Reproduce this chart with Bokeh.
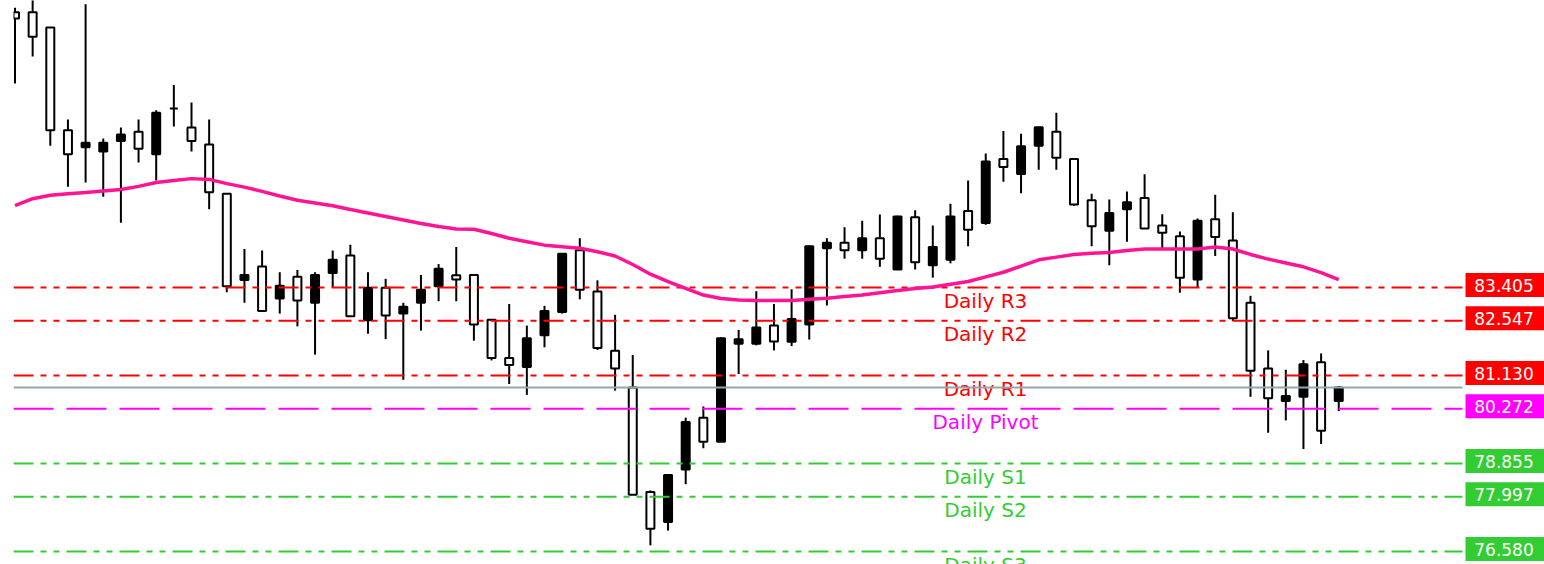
from bokeh.plotting import figure
from bokeh.models import Range1d, ColumnDataSource
from bokeh.embed import file_html
from bokeh.resources import INLINE
from bokeh.core.properties import value

# ---------------- data ----------------
opens = [90.52, 90.52, 90.13, 87.47, 87.03, 86.92, 87.19, 87.43, 86.85, 88.03,
         87.54, 87.10, 85.83, 83.60, 83.95, 83.12, 83.68, 83.01, 83.78, 84.23,
         82.56, 83.40, 82.73, 83.01, 83.44, 83.72, 83.73, 82.57, 81.58, 81.35,
         82.17, 82.77, 84.37, 83.30, 81.77, 80.82, 78.12, 77.34, 78.70, 80.04,
         79.42, 81.95, 81.95, 82.42, 82.00, 82.45, 84.42, 84.56, 84.37, 84.68,
         83.87, 85.22, 83.98, 84.12, 85.38, 85.07, 86.73, 86.34, 87.07, 87.43,
         86.73, 85.66, 84.87, 85.43, 85.72, 85.01, 84.73, 83.61, 85.17, 84.62,
         83.01, 81.31, 80.47, 80.58, 81.47, 80.47]
highs = [90.64, 90.90, 90.13, 87.75, 90.73, 87.26, 87.54, 87.75, 87.99, 88.64,
         88.19, 87.75, 85.83, 84.40, 84.36, 83.80, 83.86, 83.80, 84.36, 84.51,
         83.80, 83.63, 83.01, 83.73, 84.01, 84.45, 83.74, 82.57, 82.98, 82.42,
         82.93, 84.29, 84.68, 83.59, 82.70, 81.66, 78.16, 78.57, 80.04, 80.33,
         82.12, 82.31, 83.31, 82.98, 83.36, 84.49, 84.68, 84.96, 85.13, 85.29,
         85.26, 85.40, 85.01, 85.57, 86.17, 86.87, 87.45, 87.38, 87.56, 87.92,
         86.74, 85.83, 85.68, 85.89, 86.33, 85.30, 84.85, 85.19, 85.80, 85.35,
         83.19, 81.78, 81.28, 81.53, 81.70, 80.86]
lows = [88.68, 89.38, 87.07, 86.01, 86.12, 85.75, 85.08, 86.64, 86.17, 87.57,
        86.92, 85.43, 83.28, 83.01, 82.78, 82.73, 82.40, 81.67, 83.42, 82.65,
        82.21, 82.07, 81.02, 82.29, 83.05, 83.05, 82.03, 81.52, 80.91, 80.63,
        81.86, 82.73, 83.10, 81.79, 80.74, 78.04, 76.74, 77.12, 78.32, 79.25,
        79.41, 81.17, 81.91, 81.78, 81.89, 82.06, 82.94, 84.15, 84.15, 83.94,
        83.86, 83.87, 83.66, 84.03, 84.47, 85.03, 86.14, 85.84, 86.45, 86.45,
        85.52, 84.47, 83.98, 84.59, 84.92, 84.40, 83.27, 83.40, 84.22, 82.54,
        80.58, 79.65, 79.97, 79.23, 79.36, 80.21]
closes = [90.36, 89.89, 87.47, 86.85, 87.15, 87.15, 87.36, 86.99, 87.92, 88.03,
          87.19, 85.87, 83.44, 83.73, 82.80, 83.45, 83.07, 83.73, 84.12, 82.66,
          83.40, 82.68, 82.91, 83.35, 83.89, 83.61, 82.45, 81.58, 81.40, 82.09,
          82.80, 84.28, 83.35, 81.84, 81.31, 78.05, 77.17, 78.56, 79.93, 79.42,
          82.09, 82.07, 82.37, 82.01, 82.59, 84.47, 84.56, 84.37, 84.68, 84.15,
          85.24, 84.06, 84.45, 85.24, 84.90, 86.66, 86.52, 87.06, 87.55, 86.76,
          85.55, 84.99, 85.33, 85.61, 84.93, 84.82, 83.66, 85.13, 84.71, 82.61,
          81.25, 80.54, 80.60, 81.42, 79.70, 80.82]
moving_avg = [85.52, 85.70, 85.79, 85.83, 85.86, 85.90, 85.94, 86.02, 86.12, 86.17,
              86.22, 86.20, 86.09, 86.00, 85.89, 85.77, 85.66, 85.59, 85.52, 85.42,
              85.33, 85.24, 85.15, 85.06, 84.98, 84.92, 84.91, 84.80, 84.68, 84.59,
              84.50, 84.46, 84.42, 84.33, 84.22, 84.00, 83.75, 83.56, 83.38, 83.21,
              83.12, 83.08, 83.07, 83.07, 83.07, 83.10, 83.13, 83.17, 83.21, 83.27,
              83.33, 83.38, 83.42, 83.49, 83.56, 83.68, 83.80, 83.96, 84.12, 84.19,
              84.26, 84.29, 84.31, 84.36, 84.40, 84.40, 84.40, 84.40, 84.45, 84.40,
              84.26, 84.14, 84.04, 83.94, 83.79, 83.61]

level_names = ["Daily R3", "Daily R2", "Daily R1", "Daily Pivot", "Daily S1", "Daily S2", "Daily S3"]
level_values = [83.405, 82.547, 81.130, 80.272, 78.855, 77.997, 76.580]
level_labels = ["83.405", "82.547", "81.130", "80.272", "78.855", "77.997", "76.580"]

# ---------------- layout / style ----------------
W, H = 1544, 564
LEFT_PX = 13
FIRST_PX = 14.5
BAR_PX = 17.65
Y_TOP, Y_BOTTOM = 90.825, 76.244
PRICE_PER_PX = (Y_TOP - Y_BOTTOM) / H

def px_to_x(px):
    return (px - FIRST_PX) / BAR_PX

x_start = px_to_x(LEFT_PX)
x_end = px_to_x(W)
line_end = px_to_x(1462)
box_x = px_to_x(1505)
text_x = px_to_x(1503.5)
name_x = px_to_x(985)

RED, MAGENTA, GREEN = "#FF0000", "#FF00FF", "#32CD32"
level_colors = [RED, RED, RED, MAGENTA, GREEN, GREEN, GREEN]
DASHDOTDOT = "20 7 6 7 6 7"
LONGDASH = "40 13"
level_dashes = [DASHDOTDOT] * 3 + [LONGDASH] + [DASHDOTDOT] * 3

p = figure(width=W, height=H, output_backend="svg", toolbar_location=None,
           x_axis_location=None, y_axis_location=None,
           x_range=Range1d(x_start, x_end), y_range=Range1d(Y_BOTTOM, Y_TOP),
           min_border_left=LEFT_PX, min_border_right=0, min_border_top=0, min_border_bottom=0)
p.grid.visible = False
p.outline_line_color = None
p.background_fill_color = "white"
p.border_fill_color = "white"

idx = list(range(len(opens)))
tops = [max(o, c) for o, c in zip(opens, closes)]
bots = [min(o, c) for o, c in zip(opens, closes)]
fills = ["black" if c > o else "white" for o, c in zip(opens, closes)]
src = ColumnDataSource(dict(x=idx, o=opens, h=highs, l=lows, c=closes,
                            top=tops, bottom=bots, fill=fills))

# wicks and bodies
p.segment(x0="x", y0="l", x1="x", y1="h", source=src, line_color="black", line_width=2)
p.vbar(x="x", top="top", bottom="bottom", width=8 / BAR_PX, source=src,
       fill_color="fill", line_color="black", line_width=2)

# pivot lines
for val, col, dash in zip(level_values, level_colors, level_dashes):
    p.line([x_start, line_end], [val, val], line_color=col, line_width=2, line_dash=dash)

# level names (the lowest one runs off the bottom edge, as in the original)
p.text(x=[name_x] * len(level_names), y=level_values, text=level_names,
       text_color=level_colors, text_align="center", text_baseline="alphabetic",
       y_offset=13, text_font=value("DejaVu Sans"), text_font_size=value("20px"))

# current price line
p.line([x_start, line_end], [closes[-1], closes[-1]], line_color="#9AA3AD", line_width=2)

# moving average
p.line(idx, moving_avg, line_color="#FF1493", line_width=3.5)

# price boxes
box_y = [v + 2.5 * PRICE_PER_PX for v in level_values]
p.rect(x=[box_x] * len(level_values), y=box_y, width=80, height=24,
       width_units="screen", height_units="screen",
       fill_color=level_colors, line_color=None)
p.text(x=[text_x] * len(level_labels), y=box_y, text=level_labels,
       text_color="white", text_align="center", text_baseline="middle",
       text_font=value("DejaVu Sans"), text_font_size=value("17px"))

open("out.html", "w").write(file_html(p, INLINE))
